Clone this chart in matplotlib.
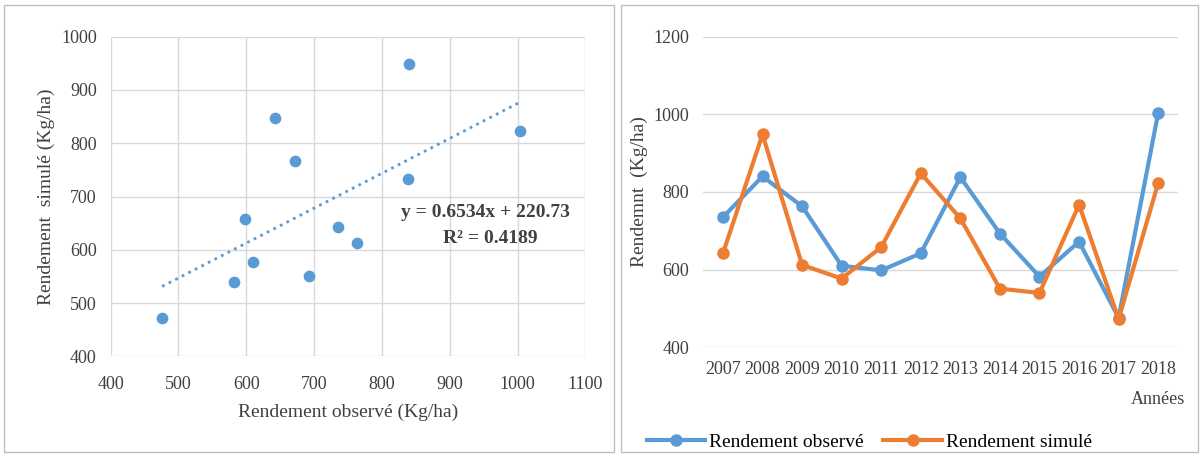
import numpy as np
import matplotlib.pyplot as plt
from matplotlib.patches import Rectangle

plt.rcParams['font.family'] = ['Liberation Serif', 'DejaVu Serif']

years = ['2007', '2008', '2009', '2010', '2011', '2012', '2013', '2014', '2015', '2016', '2017', '2018']
observed = [735, 840, 763, 610, 598, 642, 838, 693, 582, 672, 476, 1003]
simulated = [642, 948, 612, 577, 658, 848, 732, 551, 540, 767, 473, 823]

blue = '#5B9BD5'
orange = '#ED7D31'

fig = plt.figure(figsize=(12.02, 4.57), dpi=100)

# panel borders
fig.patches.append(Rectangle((0.003, 0.01), 0.508, 0.98, transform=fig.transFigure,
                             fill=False, edgecolor='#bfbfbf', lw=1))
fig.patches.append(Rectangle((0.517, 0.01), 0.48, 0.98, transform=fig.transFigure,
                             fill=False, edgecolor='#bfbfbf', lw=1))

# scatter panel
ax1 = fig.add_axes([0.092, 0.22, 0.395, 0.70])
ax1.scatter(observed, simulated, s=55, color=blue, zorder=3)
a, b = np.polyfit(observed, simulated, 1)
xs = np.array([min(observed), max(observed)])
ax1.plot(xs, a * xs + b, ':', color=blue, lw=2)
ax1.set_xlim(400, 1100)
ax1.set_ylim(400, 1000)
ax1.set_xticks(range(400, 1101, 100))
ax1.set_yticks(range(400, 1001, 100))
ax1.grid(True, color='#d9d9d9', lw=1)
ax1.set_axisbelow(True)
for s in ax1.spines.values():
    s.set_visible(False)
ax1.tick_params(length=0, labelsize=13, colors='#404040')
ax1.tick_params(axis='x', pad=14)
ax1.tick_params(axis='y', pad=10)
ax1.set_xlabel('Rendement observé (Kg/ha)', fontsize=14, color='#404040', labelpad=8)
ax1.set_ylabel('Rendement  simulé (Kg/ha)', fontsize=14, color='#404040')
ax1.text(828, 662, 'y = 0.6534x + 220.73', fontsize=14, fontweight='bold', color='#404040')
ax1.text(890, 612, 'R² = 0.4189', fontsize=14, fontweight='bold', color='#404040')

# line panel
ax2 = fig.add_axes([0.585, 0.24, 0.395, 0.68])
x = np.arange(len(years))
ax2.plot(x, observed, '-o', color=blue, lw=3, ms=8, label='Rendement observé')
ax2.plot(x, simulated, '-o', color=orange, lw=3, ms=8, label='Rendement simulé')
ax2.set_ylim(400, 1200)
ax2.set_yticks(range(400, 1201, 200))
ax2.set_xlim(-0.5, len(years) - 0.5)
ax2.set_xticks(x)
ax2.set_xticklabels(years)
ax2.grid(True, axis='y', color='#d9d9d9', lw=1)
ax2.set_axisbelow(True)
for s in ax2.spines.values():
    s.set_visible(False)
ax2.tick_params(length=0, labelsize=13, colors='#404040')
ax2.tick_params(axis='x', pad=10)
ax2.tick_params(axis='y', pad=10)
ax2.set_ylabel('Rendemnt  (Kg/ha)', fontsize=14, color='#404040')
ax2.text(len(years) - 1, -0.14, 'Années', transform=ax2.get_xaxis_transform(),
         ha='center', va='top', fontsize=13, color='#404040')
ax2.legend(loc='upper center', bbox_to_anchor=(0.35, -0.22), ncol=2, frameon=False,
           fontsize=14, handlelength=3, columnspacing=1, handletextpad=0.2)

fig.savefig('out.png', dpi=100)
